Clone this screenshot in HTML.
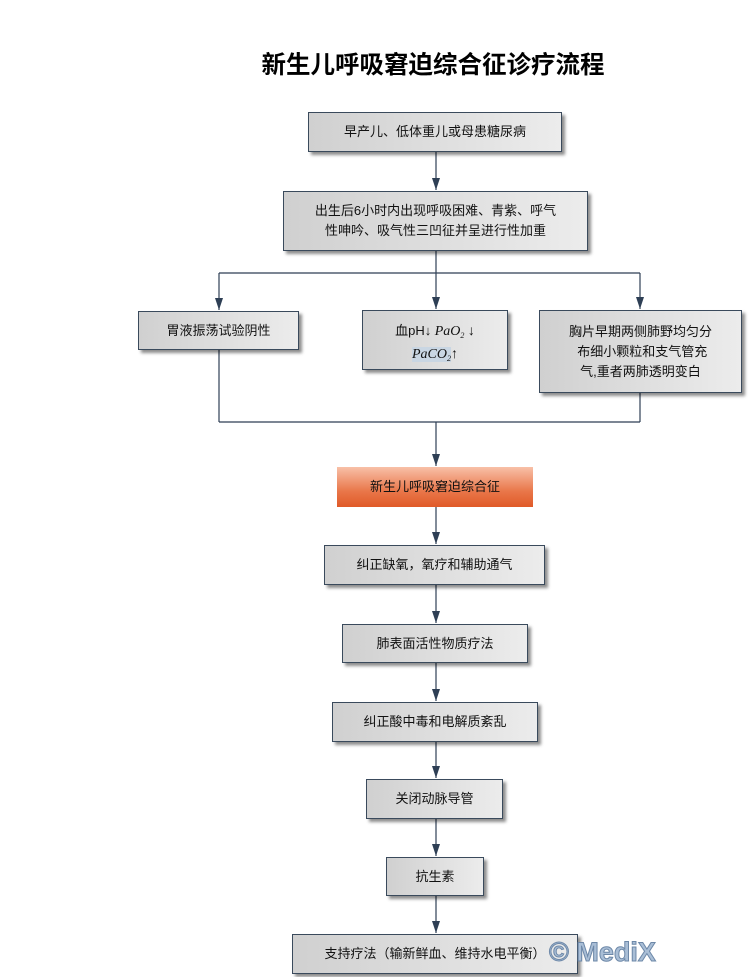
<!DOCTYPE html>
<html><head><meta charset="utf-8"><style>
body{margin:0;width:755px;height:977px;background:#fff;position:relative;overflow:hidden;font-family:"Liberation Sans","Noto Sans CJK SC",sans-serif;}
.b{position:absolute;box-sizing:border-box;border:1px solid #3a4a5c;background:linear-gradient(to right,#d0d0d0,#ececec);box-shadow:3px 3px 3px rgba(0,0,0,.45);font-size:13px;color:#111;display:flex;align-items:center;justify-content:center;text-align:center;line-height:20px;}
.t{position:absolute;left:0;width:866px;top:46px;text-align:center;font-size:24.5px;font-weight:bold;}
</style></head><body>
<div class="t">新生儿呼吸窘迫综合征诊疗流程</div>
<svg width="755" height="977" style="position:absolute;left:0;top:0">
<defs><marker id="a" markerWidth="12" markerHeight="8" refX="12" refY="4" orient="auto" markerUnits="userSpaceOnUse"><path d="M0,0 L12,4 L0,8 Z" fill="#2e3f55"/></marker></defs>
<g stroke="#2e3f55" stroke-width="1.2" fill="none">
<line x1="436" y1="152" x2="436" y2="190" marker-end="url(#a)"/>
<line x1="436" y1="251" x2="436" y2="273"/>
<line x1="219" y1="273" x2="640" y2="273"/>
<line x1="219" y1="273" x2="219" y2="310" marker-end="url(#a)"/>
<line x1="436" y1="273" x2="436" y2="309" marker-end="url(#a)"/>
<line x1="640" y1="273" x2="640" y2="309" marker-end="url(#a)"/>
<line x1="219" y1="350" x2="219" y2="422"/>
<line x1="640" y1="393" x2="640" y2="422"/>
<line x1="219" y1="422" x2="640" y2="422"/>
<line x1="436" y1="422" x2="436" y2="466" marker-end="url(#a)"/>
<line x1="436" y1="507" x2="436" y2="544" marker-end="url(#a)"/>
<line x1="436" y1="585" x2="436" y2="623" marker-end="url(#a)"/>
<line x1="436" y1="663" x2="436" y2="701" marker-end="url(#a)"/>
<line x1="436" y1="742" x2="436" y2="778" marker-end="url(#a)"/>
<line x1="436" y1="819" x2="436" y2="856" marker-end="url(#a)"/>
<line x1="436" y1="896" x2="436" y2="933" marker-end="url(#a)"/>
</g></svg>
<div class="b" style="left:308px;top:112px;width:254px;height:40px">早产儿、低体重儿或母患糖尿病</div>
<div class="b" style="left:283px;top:191px;width:305px;height:60px">出生后6小时内出现呼吸困难、青紫、呼气<br>性呻吟、吸气性三凹征并呈进行性加重</div>
<div class="b" style="left:138px;top:311px;width:161px;height:39px">胃液振荡试验阴性</div>
<div class="b" style="left:362px;top:310px;width:146px;height:60px;font-family:'Liberation Serif','Noto Sans CJK SC',serif;font-size:14px;line-height:19px;align-items:flex-start;padding-top:10px"><div><span style="font-family:'Liberation Sans','Noto Sans CJK SC',sans-serif;font-size:13px">血pH↓</span> <i>PaO<span style="font-size:8px;vertical-align:-3px">2</span></i> ↓<br><i style="background:#c9d6e3">PaCO<span style="font-size:8px;vertical-align:-3px">2</span></i>↑</div></div>
<div class="b" style="left:539px;top:310px;width:203px;height:83px">胸片早期两侧肺野均匀分<br>&nbsp;布细小颗粒和支气管充<br>气,重者两肺透明变白</div>
<div class="b" style="left:337px;top:467px;width:196px;height:40px;border:none;background:linear-gradient(#f8c0a8,#e9774a 60%,#e05a28);box-shadow:none">新生儿呼吸窘迫综合征</div>
<div class="b" style="left:324px;top:545px;width:221px;height:40px">纠正缺氧，氧疗和辅助通气</div>
<div class="b" style="left:342px;top:624px;width:186px;height:39px">肺表面活性物质疗法</div>
<div class="b" style="left:332px;top:702px;width:206px;height:40px">纠正酸中毒和电解质紊乱</div>
<div class="b" style="left:366px;top:779px;width:137px;height:40px">关闭动脉导管</div>
<div class="b" style="left:386px;top:857px;width:98px;height:39px">抗生素</div>
<div class="b" style="left:292px;top:934px;width:286px;height:40px">支持疗法（输新鲜血、维持水电平衡）</div>
<div style="position:absolute;left:549px;top:937px;font-size:27px;font-weight:bold;color:#a9bed6;-webkit-text-stroke:1px #6d88a8;font-family:'Liberation Sans',sans-serif">© MediX</div>
</body></html>
